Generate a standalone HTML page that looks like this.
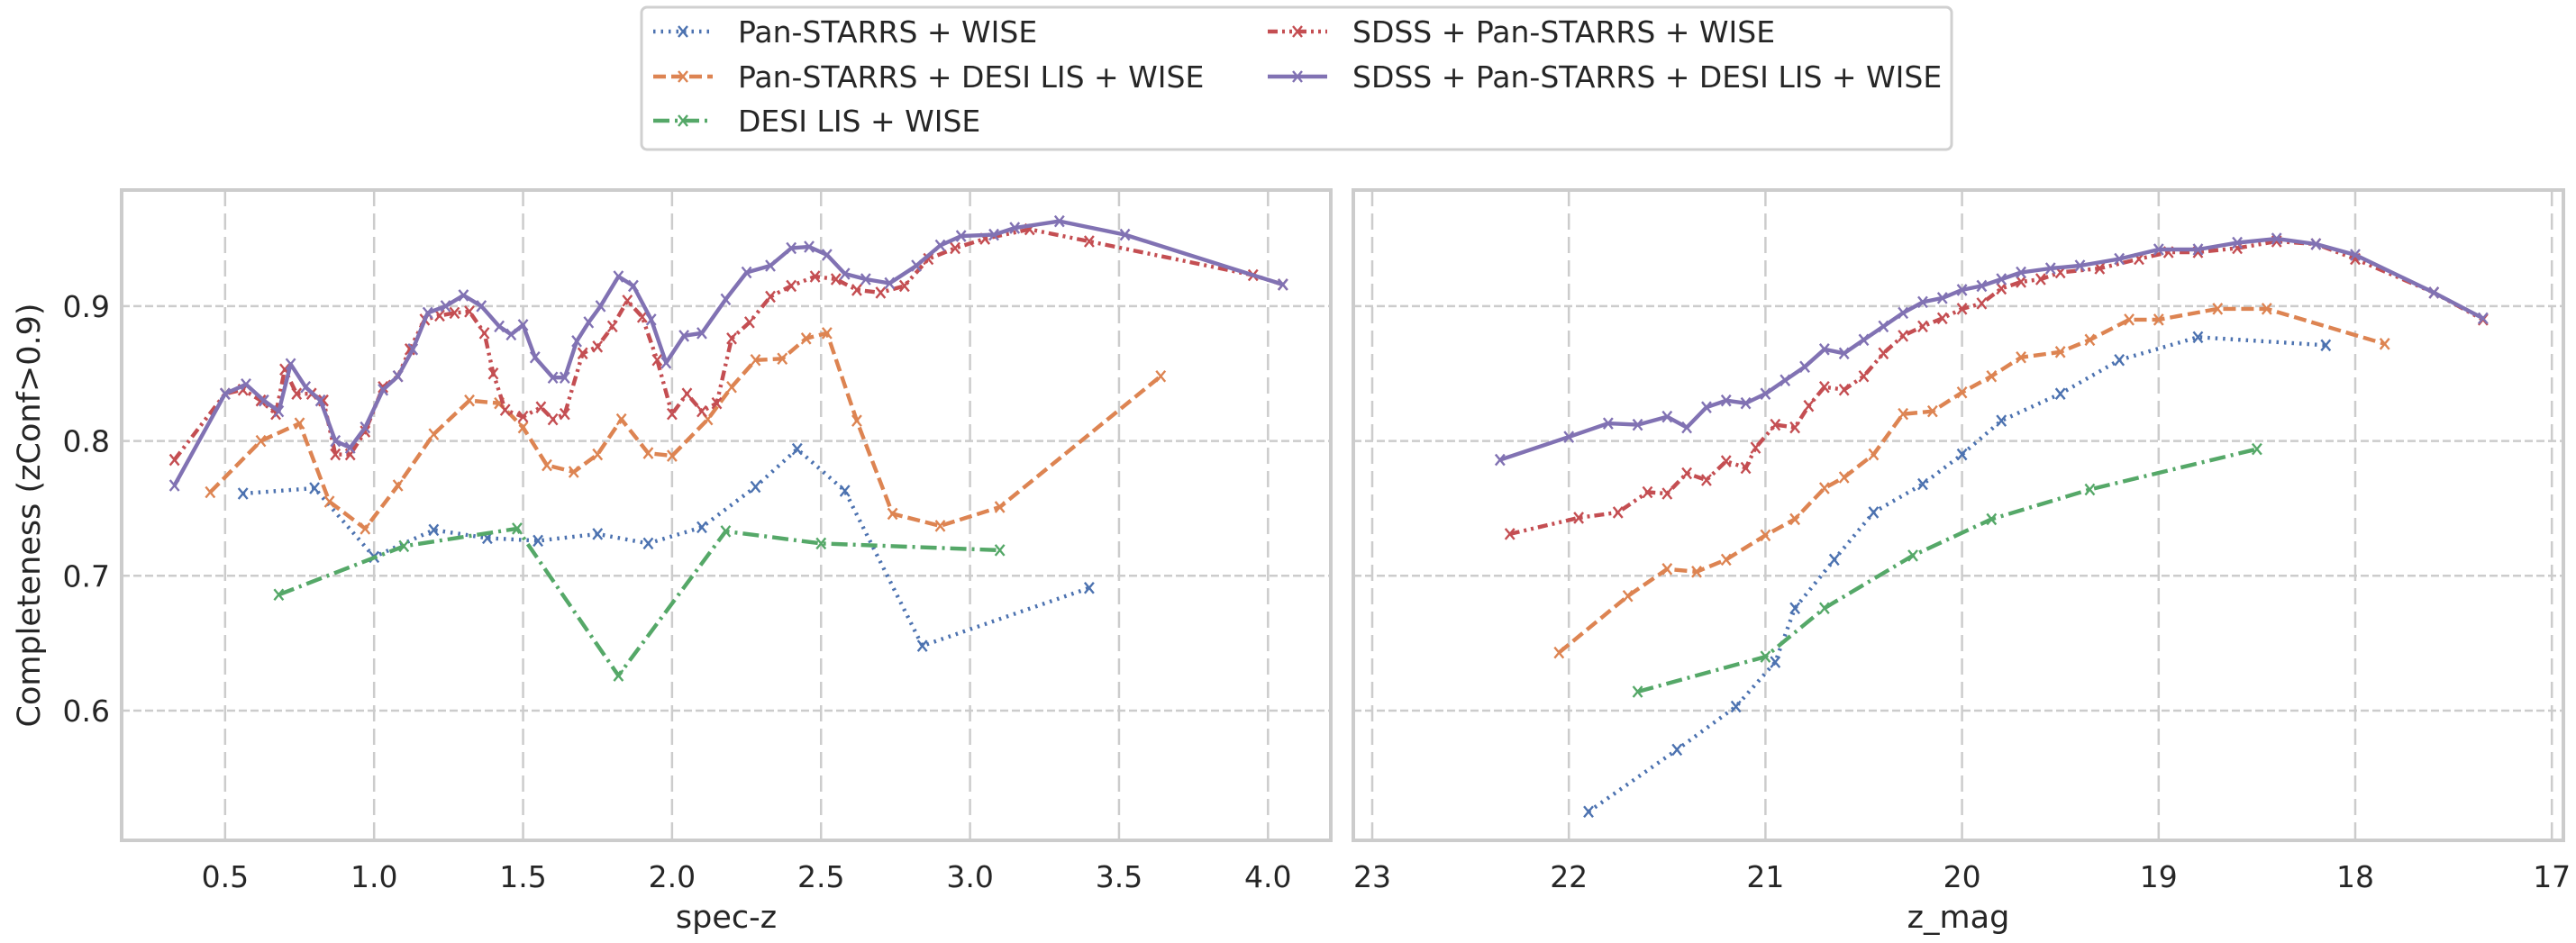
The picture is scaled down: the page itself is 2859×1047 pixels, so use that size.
<!DOCTYPE html>
<html><head><meta charset="utf-8">
<style>
html,body{margin:0;padding:0;background:#fff;}
svg{display:block;font-family:"DejaVu Sans","Liberation Sans",sans-serif;}
</style></head>
<body>
<svg id="chart" width="2859" height="1047" viewBox="0 0 2859 1047" xmlns="http://www.w3.org/2000/svg"></svg>
<script>
// ---- data ----
const seriesNames = ["Pan-STARRS + WISE","Pan-STARRS + DESI LIS + WISE","DESI LIS + WISE","SDSS + Pan-STARRS + WISE","SDSS + Pan-STARRS + DESI LIS + WISE"];
const yTicks = [0.6,0.7,0.8,0.9];
const xTicksLeft = [0.5,1.0,1.5,2.0,2.5,3.0,3.5,4.0];
const xTicksRight = [23,22,21,20,19,18,17];

const specZ_blueX = [0.56,0.8,1.0,1.2,1.38,1.55,1.75,1.92,2.1,2.28,2.42,2.58,2.84,3.4];
const specZ_blueY = [0.761,0.765,0.714,0.734,0.728,0.726,0.731,0.724,0.736,0.766,0.794,0.763,0.648,0.691];
const specZ_orangeX = [0.45,0.62,0.75,0.85,0.97,1.08,1.2,1.32,1.42,1.5,1.58,1.67,1.75,1.83,1.92,2.0,2.12,2.2,2.28,2.37,2.45,2.52,2.62,2.74,2.9,3.1,3.64];
const specZ_orangeY = [0.762,0.8,0.813,0.755,0.735,0.767,0.805,0.83,0.828,0.81,0.782,0.777,0.79,0.816,0.791,0.789,0.816,0.84,0.86,0.861,0.876,0.88,0.815,0.746,0.737,0.751,0.848];
const specZ_greenX = [0.68,1.1,1.48,1.82,2.18,2.5,3.1];
const specZ_greenY = [0.686,0.722,0.735,0.626,0.733,0.724,0.719];
const specZ_redX = [0.33,0.5,0.56,0.62,0.67,0.7,0.74,0.79,0.83,0.87,0.92,0.97,1.03,1.08,1.12,1.17,1.22,1.27,1.32,1.37,1.4,1.44,1.5,1.56,1.6,1.64,1.7,1.75,1.8,1.85,1.9,1.95,2.0,2.05,2.1,2.15,2.2,2.26,2.33,2.4,2.48,2.55,2.62,2.7,2.78,2.86,2.95,3.05,3.2,3.4,3.95,4.05];
const specZ_redY = [0.786,0.835,0.838,0.83,0.82,0.853,0.835,0.835,0.83,0.79,0.79,0.807,0.84,0.848,0.868,0.89,0.893,0.895,0.896,0.88,0.85,0.823,0.818,0.825,0.816,0.82,0.865,0.87,0.885,0.904,0.892,0.86,0.82,0.835,0.822,0.828,0.876,0.888,0.907,0.915,0.922,0.92,0.912,0.91,0.915,0.935,0.943,0.95,0.957,0.948,0.923,0.916];
const specZ_purpleX = [0.33,0.5,0.57,0.63,0.68,0.72,0.77,0.82,0.87,0.92,0.97,1.03,1.08,1.13,1.18,1.24,1.3,1.36,1.42,1.46,1.5,1.54,1.6,1.64,1.68,1.72,1.76,1.82,1.87,1.93,1.98,2.04,2.1,2.18,2.25,2.33,2.4,2.46,2.52,2.58,2.65,2.73,2.82,2.9,2.97,3.08,3.15,3.3,3.52,4.05];
const specZ_purpleY = [0.767,0.835,0.842,0.83,0.822,0.857,0.84,0.83,0.8,0.795,0.81,0.838,0.848,0.868,0.895,0.9,0.908,0.9,0.885,0.879,0.886,0.862,0.847,0.847,0.874,0.888,0.9,0.922,0.915,0.89,0.858,0.878,0.88,0.905,0.925,0.93,0.943,0.944,0.938,0.924,0.92,0.917,0.93,0.945,0.952,0.953,0.958,0.963,0.953,0.916];

const zmag_blueX = [21.9,21.45,21.15,20.95,20.85,20.65,20.45,20.2,20.0,19.8,19.5,19.2,18.8,18.15];
const zmag_blueY = [0.525,0.571,0.603,0.636,0.676,0.712,0.747,0.768,0.79,0.815,0.835,0.86,0.877,0.871];
const zmag_greenX = [21.65,21.0,20.7,20.25,19.85,19.35,18.5];
const zmag_greenY = [0.614,0.64,0.676,0.715,0.742,0.764,0.794];
const zmag_orangeX = [22.05,21.7,21.5,21.35,21.2,21.0,20.85,20.7,20.6,20.45,20.3,20.15,20.0,19.85,19.7,19.5,19.35,19.15,19.0,18.7,18.45,17.85];
const zmag_orangeY = [0.643,0.685,0.705,0.703,0.712,0.73,0.742,0.765,0.773,0.79,0.82,0.822,0.836,0.848,0.862,0.866,0.875,0.89,0.89,0.898,0.898,0.872];
const zmag_redX = [22.3,21.95,21.75,21.6,21.5,21.4,21.3,21.2,21.1,21.05,20.95,20.85,20.78,20.7,20.6,20.5,20.4,20.3,20.2,20.1,20.0,19.9,19.8,19.7,19.6,19.5,19.3,19.1,18.95,18.8,18.6,18.4,18.2,18.0,17.6,17.35];
const zmag_redY = [0.731,0.743,0.747,0.762,0.761,0.776,0.771,0.785,0.78,0.795,0.812,0.81,0.826,0.84,0.838,0.848,0.865,0.878,0.885,0.891,0.898,0.902,0.913,0.918,0.92,0.925,0.928,0.935,0.94,0.94,0.943,0.948,0.946,0.935,0.91,0.89];
const zmag_purpleX = [22.35,22.0,21.8,21.65,21.5,21.4,21.3,21.2,21.1,21.0,20.9,20.8,20.7,20.6,20.5,20.4,20.3,20.2,20.1,20.0,19.9,19.8,19.7,19.55,19.4,19.2,19.0,18.8,18.6,18.4,18.2,18.0,17.6,17.35];
const zmag_purpleY = [0.786,0.803,0.813,0.812,0.818,0.81,0.825,0.83,0.828,0.835,0.845,0.855,0.868,0.865,0.875,0.885,0.895,0.903,0.906,0.912,0.915,0.92,0.925,0.928,0.93,0.935,0.942,0.942,0.947,0.95,0.946,0.938,0.91,0.891];

// ---- layout ----
const NS="http://www.w3.org/2000/svg";
const svg=document.getElementById('chart');
const colors=["#4c72b0","#dd8452","#55a868","#c44e52","#8172b3"];
const dashes=["2.5,6","14,6","18,6,3,6","11,5,3,5,3,5",""];
const axTop=211,axBottom=933;
function yS(v){return 789-(v-0.6)*1497;}
const L={x0:135,x1:1477,fx:function(v){return 84.5+v*330.7;}};
const R={x0:1502,x1:2845,fx:function(v){return 1523+(23-v)*218.2;}};
function mk(tag,attrs,parent){const e=document.createElementNS(NS,tag);for(const k in attrs)e.setAttribute(k,attrs[k]);(parent||svg).appendChild(e);return e;}

function panel(P,xticks,fmt,xlabel,name,sets){
  const g=mk('g',{});
  
  
  const clipId=name+'-clip';
  const cp=mk('clipPath',{id:clipId},g);
  mk('rect',{x:P.x0,y:axTop,width:P.x1-P.x0,height:axBottom-axTop},cp);
  yTicks.forEach(t=>{
    const l=mk('line',{x1:P.x0,x2:P.x1,y1:yS(t),y2:yS(t),stroke:'#cccccc','stroke-width':2.5,'stroke-dasharray':'9,4'},g);
    
    
  });
  xticks.forEach(t=>{
    const x=P.fx(t);
    const l=mk('line',{x1:x,x2:x,y1:axTop,y2:axBottom,stroke:'#cccccc','stroke-width':2.5,'stroke-dasharray':'18,8'},g);
    
    
    const tx=mk('text',{x:x,y:985,'font-size':33,'text-anchor':'middle',fill:'#262626'},g);
    tx.textContent=fmt(t);
    
    
  });
  const lg=mk('g',{'clip-path':'url(#'+clipId+')'},g);
  sets.forEach((s,i)=>{
    const pts=s[0].map((v,j)=>P.fx(v).toFixed(1)+','+yS(s[1][j]).toFixed(1)).join(' ');
    const pl=mk('polyline',{points:pts,fill:'none',stroke:colors[i],'stroke-width':4.4,'stroke-dasharray':dashes[i],'stroke-linejoin':'round'},lg);
    
    
    s[0].forEach((v,j)=>{
      const x=P.fx(v),y=yS(s[1][j]);
      const m=mk('path',{d:`M${x-5},${y-6}L${x+5},${y+6}M${x-5},${y+6}L${x+5},${y-6}`,stroke:colors[i],'stroke-width':2.4,fill:'none'},lg);
      
      
    });
  });
  const b=mk('rect',{x:P.x0,y:axTop,width:P.x1-P.x0,height:axBottom-axTop,fill:'none',stroke:'#cccccc','stroke-width':4},g);
  
  
  const xl=mk('text',{x:(P.x0+P.x1)/2,y:1030,'font-size':35,'text-anchor':'middle',fill:'#262626'},g);
  xl.textContent=xlabel;
  
  
}
panel(L,xTicksLeft,t=>t.toFixed(1),'spec-z','spec-z-panel',[[specZ_blueX,specZ_blueY],[specZ_orangeX,specZ_orangeY],[specZ_greenX,specZ_greenY],[specZ_redX,specZ_redY],[specZ_purpleX,specZ_purpleY]]);
panel(R,xTicksRight,t=>String(t),'z_mag','zmag-panel',[[zmag_blueX,zmag_blueY],[zmag_orangeX,zmag_orangeY],[zmag_greenX,zmag_greenY],[zmag_redX,zmag_redY],[zmag_purpleX,zmag_purpleY]]);

yTicks.forEach(t=>{
  const tx=mk('text',{x:122,y:yS(t)+12,'font-size':33,'text-anchor':'end',fill:'#262626'});
  tx.textContent=t.toFixed(1);
  
  
});
const yl=mk('text',{x:0,y:0,'font-size':35,'text-anchor':'middle',fill:'#262626',transform:'translate(44,572) rotate(-90)'});
yl.textContent='Completeness (zConf>0.9)';



// legend
const lgd=mk('g',{});


mk('rect',{x:712,y:8,width:1454,height:158,rx:6,fill:'#fff',stroke:'#d0d0d0','stroke-width':3},lgd);
const legPos=[[725,35],[725,85],[725,134],[1407,35],[1407,85]];
seriesNames.forEach((n,i)=>{
  const [x,y]=legPos[i];
  const e=mk('g',{},lgd);
  
  
  mk('line',{x1:x,x2:x+66,y1:y,y2:y,stroke:colors[i],'stroke-width':4.4,'stroke-dasharray':dashes[i]},e);
  const cx=x+33;
  mk('path',{d:`M${cx-5},${y-6}L${cx+5},${y+6}M${cx-5},${y+6}L${cx+5},${y-6}`,stroke:colors[i],'stroke-width':2.4},e);
  const t=mk('text',{x:x+94,y:y+12,'font-size':33,fill:'#262626'},e);
  t.textContent=n;
});
</script>
</body></html>
